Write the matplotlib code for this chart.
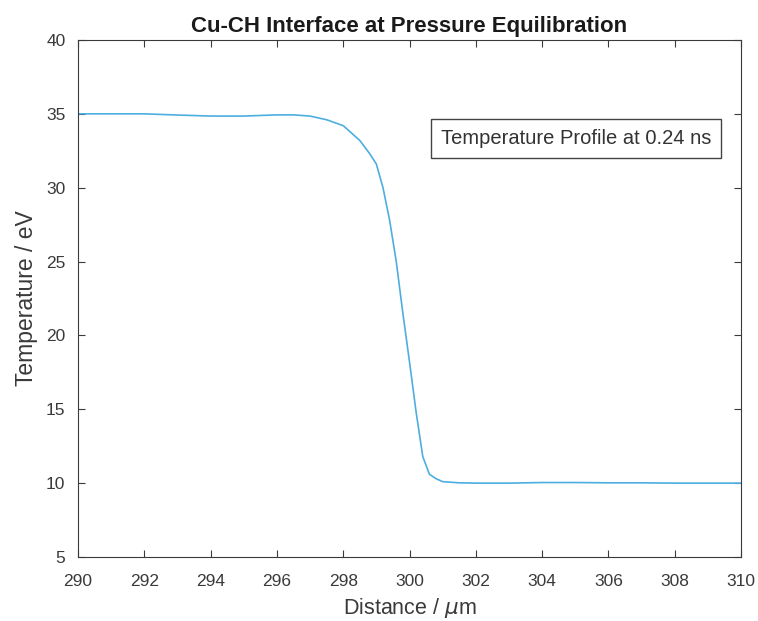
import matplotlib
matplotlib.use('Agg')
import matplotlib.pyplot as plt

plt.rcParams['font.family'] = ['Liberation Sans', 'DejaVu Sans']

# temperature profile
distance = [290, 291, 292, 293, 294, 295, 296, 296.5, 297, 297.5, 298, 298.5, 298.8,
            299.0, 299.2, 299.4, 299.6, 299.8, 300.0, 300.2, 300.4, 300.6, 300.8,
            301.0, 301.5, 302, 303, 304, 305, 306, 307, 308, 309, 310]
temperature = [35.0, 35.0, 35.0, 34.92, 34.85, 34.85, 34.93, 34.93, 34.85, 34.6, 34.2, 33.2, 32.3,
               31.6, 30.0, 27.8, 25.0, 21.5, 18.2, 14.8, 11.8, 10.6, 10.3,
               10.1, 10.02, 10.0, 10.0, 10.04, 10.04, 10.02, 10.02, 10.0, 10.0, 10.0]
x_ticks = list(range(290, 311, 2))
y_ticks = list(range(5, 41, 5))

fig = plt.figure(figsize=(7.58, 6.21), dpi=100)
ax = fig.add_axes([0.1029, 0.1031, 0.8747, 0.8325])
ax.plot(distance, temperature, color='#4DAEE0', linewidth=1.2)

ax.set_xlim(290, 310)
ax.set_ylim(5, 40)
ax.set_xticks(x_ticks)
ax.set_yticks(y_ticks)
ax.tick_params(direction='in', top=True, right=True, labelsize=12.5, colors='#3a3a3a', length=5)
ax.tick_params(axis='x', pad=12)
ax.tick_params(axis='y', pad=9)
for s in ax.spines.values():
    s.set_color('#3a3a3a')
    s.set_linewidth(0.8)

ax.set_title('Cu-CH Interface at Pressure Equilibration', fontsize=16, fontweight='bold', pad=6, color='#1a1a1a')
ax.set_xlabel('Distance / $\\mu$m', fontsize=15.5, color='#3a3a3a', labelpad=5)
ax.set_ylabel('Temperature / eV', fontsize=16.5, color='#3a3a3a', labelpad=6)

ax.text(0.751, 0.810, 'Temperature Profile at 0.24 ns', transform=ax.transAxes,
        ha='center', va='center', fontsize=14.5, color='#333333',
        bbox=dict(boxstyle='square,pad=0.5', facecolor='white', edgecolor='#444444', linewidth=1.0))

plt.savefig('out.png', dpi=100)
